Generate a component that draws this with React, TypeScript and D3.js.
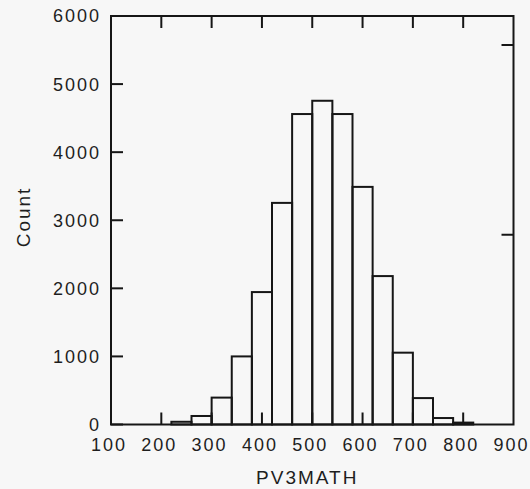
import React from 'react';
import * as d3 from 'd3';

// histogram bins (lower edge of each bar), width 40
const binStarts = [220, 260, 300, 340, 380, 420, 460, 500, 540, 580, 620, 660, 700, 740, 780];
const binWidth = 40;
const counts = [40, 125, 395, 1000, 1945, 3255, 4560, 4755, 4560, 3490, 2180, 1055, 388, 95, 28];

const xTicks = [100, 200, 300, 400, 500, 600, 700, 800, 900];
const yTicks = [0, 1000, 2000, 3000, 4000, 5000, 6000];
// right axis: proportion per bar (labels cut off in the original)
const propTicks = [0.1, 0.2];

const W = 530;
const H = 489;

const App: React.FC = () => {
  const margin = { top: 16, right: 16.5, bottom: 64.5, left: 111 };
  const innerW = W - margin.left - margin.right;
  const innerH = H - margin.top - margin.bottom;
  const font = '"Liberation Sans", Arial, sans-serif';
  const ink = '#161616';
  const textInk = '#1e1e1e';
  const tick = 12;

  const x = d3.scaleLinear().domain([100, 900]).range([0, innerW]);
  const y = d3.scaleLinear().domain([0, 6000]).range([innerH, 0]);
  const total = d3.sum(counts);

  const labelStyle: React.CSSProperties = {
    fontFamily: font,
    fontSize: '18px',
    letterSpacing: '2px',
    fill: textInk,
  };

  return (
    <div style={{ position: 'fixed', left: 0, top: 0 }}>
      <svg width={W} height={H} style={{ display: 'block' }}>
        <rect width={W} height={H} fill="#f7f7f7" />
        <g transform={`translate(${margin.left},${margin.top})`}>
          {/* bars */}
          {binStarts.map((d, i) => (
            <rect
              key={d}
              x={x(d)}
              width={x(d + binWidth) - x(d)}
              y={y(counts[i])}
              height={y(0) - y(counts[i])}
              fill="none"
              stroke={ink}
              strokeWidth={2}
            />
          ))}

          {/* bottom + top inner ticks */}
          {xTicks.slice(1, -1).map((t) => (
            <g key={`xt${t}`}>
              <line x1={x(t)} x2={x(t)} y1={innerH} y2={innerH - tick} stroke={ink} strokeWidth={2} />
              <line x1={x(t)} x2={x(t)} y1={0} y2={tick} stroke={ink} strokeWidth={2} />
            </g>
          ))}
          {xTicks.map((t) => (
            <text key={`xl${t}`} x={x(t) - 2} y={innerH + 13.5} dy="0.71em" textAnchor="middle" style={labelStyle}>
              {d3.format('d')(t)}
            </text>
          ))}

          {/* left ticks and labels */}
          {yTicks.map((t) => (
            <g key={`yt${t}`}>
              <line x1={0} x2={tick} y1={y(t)} y2={y(t)} stroke={ink} strokeWidth={2} />
              <text x={-10} y={y(t)} dy="0.36em" textAnchor="end" style={labelStyle}>
                {d3.format('d')(t)}
              </text>
            </g>
          ))}

          {/* right axis: proportion per bar, ticks only */}
          {propTicks.map((p) => (
            <line
              key={`pt${p}`}
              x1={innerW}
              x2={innerW - tick}
              y1={y(p * total)}
              y2={y(p * total)}
              stroke={ink}
              strokeWidth={2}
            />
          ))}

          {/* frame */}
          <rect width={innerW} height={innerH} fill="none" stroke={ink} strokeWidth={2} />

          {/* axis titles */}
          <text
            x={innerW / 2 - 5}
            y={innerH + 59}
            textAnchor="middle"
            style={{ ...labelStyle, fontSize: '19px' }}
          >
            PV3MATH
          </text>
          <text
            transform="rotate(-90)"
            x={-(217 - margin.top)}
            y={-(margin.left - 30)}
            textAnchor="middle"
            style={{ ...labelStyle, fontSize: '19px' }}
          >
            Count
          </text>
        </g>
      </svg>
    </div>
  );
};

export default App;
